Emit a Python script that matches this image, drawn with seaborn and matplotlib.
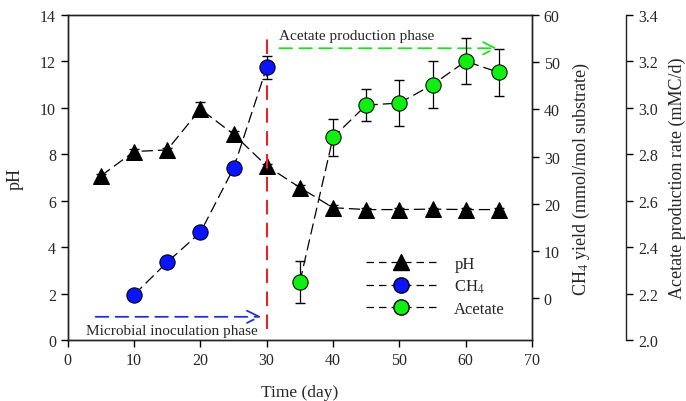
import numpy as np
import pandas as pd
import seaborn as sns
import matplotlib.pyplot as plt
from matplotlib.lines import Line2D

# data
ph_day = [5, 10, 15, 20, 25, 30, 35, 40, 45, 50, 55, 60, 65]
ph_val = [7.07, 8.12, 8.19, 9.95, 8.87, 7.50, 6.57, 5.70, 5.62, 5.62, 5.64, 5.62, 5.62]
ph_err = [0.1, 0.1, 0.1, 0.3, 0.15, 0.1, 0.1, 0.1, 0.05, 0.05, 0.05, 0.05, 0.05]

ch4_day = [10, 15, 20, 25, 30]
ch4_val = [0.7, 7.6, 13.9, 27.5, 48.9]
ch4_err = [0.5, 0.6, 0.6, 1.2, 2.4]

ace_day = [35, 40, 45, 50, 55, 60, 65]
ace_val = [2.25, 2.873, 3.012, 3.021, 3.100, 3.201, 3.153]
ace_err = [0.09, 0.08, 0.07, 0.10, 0.10, 0.10, 0.10]

sns.set_style("ticks")
plt.rcParams['font.family'] = ['Liberation Serif', 'DejaVu Serif']
plt.rcParams['mathtext.fontset'] = 'stix'
plt.rcParams['xtick.direction'] = 'out'
plt.rcParams['ytick.direction'] = 'out'

fig = plt.figure(figsize=(6.86, 4.02), dpi=100)
ax = fig.add_axes([0.0987, 0.1517, 0.6768, 0.8083])
ax2 = ax.twinx()
ax3 = ax.twinx()
ax3.spines['right'].set_position(('axes', 1.2025))

dash = (0, (9, 4))
df_ph = pd.DataFrame({'day': ph_day, 'val': ph_val})
df_ch4 = pd.DataFrame({'day': ch4_day, 'val': ch4_val})
df_ace = pd.DataFrame({'day': ace_day, 'val': ace_val})

sns.lineplot(data=df_ph, x='day', y='val', ax=ax, color='black', lw=0.9,
             linestyle=dash, marker='^', markersize=11, markerfacecolor='black',
             markeredgecolor='black', zorder=3)
ax.errorbar(ph_day, ph_val, yerr=ph_err, fmt='none', ecolor='black', elinewidth=0.9,
            capsize=3.5, zorder=2)

sns.lineplot(data=df_ch4, x='day', y='val', ax=ax2, color='black', lw=0.9,
             linestyle=dash, marker='o', markersize=11, markerfacecolor='#0a14ff',
             markeredgecolor='black', zorder=3)
ax2.errorbar(ch4_day, ch4_val, yerr=ch4_err, fmt='none', ecolor='black', elinewidth=0.9,
             capsize=3.5, zorder=2)

sns.lineplot(data=df_ace, x='day', y='val', ax=ax3, color='black', lw=0.9,
             linestyle=dash, marker='o', markersize=11, markerfacecolor='#11ee11',
             markeredgecolor='black', zorder=3)
ax3.errorbar(ace_day, ace_val, yerr=ace_err, fmt='none', ecolor='black', elinewidth=0.9,
             capsize=3.5, zorder=2)

# main axis
ax.set_xlim(0, 70)
ax.set_ylim(0, 14)
ax.set_xticks(np.arange(0, 71, 10))
ax.set_yticks(np.arange(0, 15, 2))
ax.set_xlabel('Time (day)', fontsize=12.5, labelpad=12)
ax.set_ylabel('pH', fontsize=13, labelpad=12)

ax2.set_ylim(-8.9, 60)
ax2.set_yticks(np.arange(0, 61, 10))
ax2.set_ylabel('CH$_4$ yield (mmol/mol substrate)', fontsize=13, labelpad=8)
ax2.set_xlabel('')

ax3.set_ylim(2.0, 3.4)
ax3.set_yticks(np.arange(2.0, 3.41, 0.2))
ax3.set_yticklabels([f'{v:.1f}' for v in np.arange(2.0, 3.41, 0.2)])
ax3.set_ylabel('Acetate production rate (mMC/d)', fontsize=13, labelpad=8)
ax3.set_xlabel('')
for s in ['top', 'left', 'bottom']:
    ax3.spines[s].set_visible(False)

for a in (ax, ax2, ax3):
    a.tick_params(labelsize=11.5, width=1, length=5, color='black')
    for s in a.spines.values():
        s.set_color('#222222')
        s.set_linewidth(1)

# phase annotations
ax.axvline(30, ymin=0.033, ymax=0.95, color='#e8242a', lw=1.5, linestyle=(0, (7, 4)), zorder=4)
ax.annotate('', xy=(29.6, 1.0), xytext=(3.8, 1.0),
            arrowprops=dict(arrowstyle='->', color='#2030e0', lw=1.3,
                            linestyle=(0, (7, 4)), mutation_scale=22))
ax.text(2.8, 0.42, 'Microbial inoculation phase', fontsize=11, va='center', ha='left')
ax.annotate('', xy=(65.2, 12.57), xytext=(31.5, 12.57),
            arrowprops=dict(arrowstyle='->', color='#22dd22', lw=1.3,
                            linestyle=(0, (7, 4)), mutation_scale=22))
ax.text(31.9, 13.14, 'Acetate production phase', fontsize=11, va='center', ha='left')

handles = [
    Line2D([], [], color='black', lw=0.9, linestyle=(0, (6, 4)), marker='^', markersize=11,
           markerfacecolor='black', markeredgecolor='black'),
    Line2D([], [], color='black', lw=0.9, linestyle=(0, (6, 4)), marker='o', markersize=11,
           markerfacecolor='#0a14ff', markeredgecolor='black'),
    Line2D([], [], color='black', lw=0.9, linestyle=(0, (6, 4)), marker='o', markersize=11,
           markerfacecolor='#11ee11', markeredgecolor='black'),
]
ax3.legend(handles, ['pH', 'CH$_4$', 'Acetate'], loc='lower left',
           bbox_to_anchor=(0.61, 0.025), frameon=False, fontsize=12,
           handlelength=4.2, handletextpad=1.1, labelspacing=0.35)

fig.savefig('out.png', dpi=100)
